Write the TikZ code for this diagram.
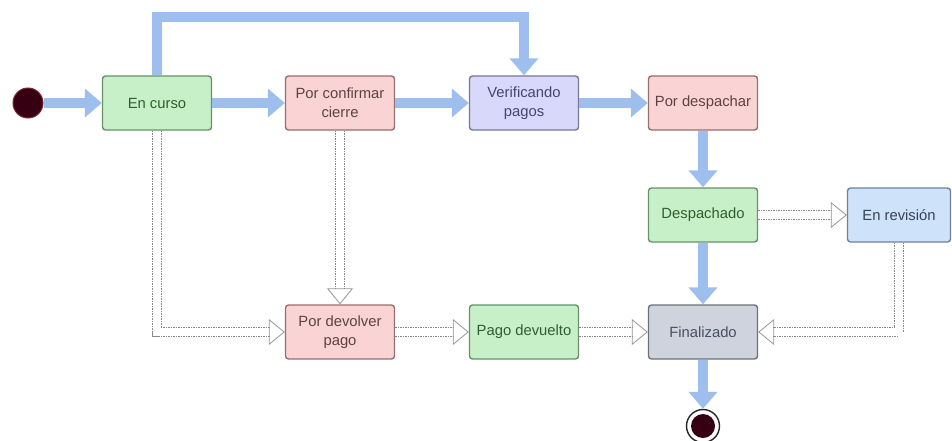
\documentclass[tikz,border=0pt]{standalone}
\usepackage{fontspec}
\setmainfont{Liberation Sans}
\usetikzlibrary{arrows.meta,calc}

% state colours: fill, border, text
\definecolor{grfill}{RGB}{200,240,200}\definecolor{grline}{RGB}{105,145,105}\definecolor{grtext}{RGB}{45,95,45}
\definecolor{pkfill}{RGB}{250,212,212}\definecolor{pkline}{RGB}{150,110,110}\definecolor{pktext}{RGB}{95,65,65}
\definecolor{lvfill}{RGB}{216,216,250}\definecolor{lvline}{RGB}{120,120,150}\definecolor{lvtext}{RGB}{70,70,110}
\definecolor{blfill}{RGB}{206,226,250}\definecolor{blline}{RGB}{110,130,160}\definecolor{bltext}{RGB}{55,65,85}
\definecolor{gyfill}{RGB}{206,211,222}\definecolor{gyline}{RGB}{110,112,122}\definecolor{gytext}{RGB}{70,80,100}
\definecolor{flowblue}{RGB}{158,190,237}
\definecolor{retgray}{RGB}{135,135,135}
\definecolor{tipgray}{RGB}{150,150,150}
\definecolor{dotdark}{RGB}{55,0,18}
\definecolor{dotrim}{RGB}{120,40,50}

\tikzset{
  state/.style={draw, line width=1.4pt, rounded corners=3pt, minimum width=109pt,
    minimum height=54pt, align=center, inner sep=2pt,
    font=\fontsize{14.8}{19}\selectfont},
  green/.style={state, fill=grfill, draw=grline, text=grtext},
  pink/.style={state, fill=pkfill, draw=pkline, text=pktext},
  lavender/.style={state, fill=lvfill, draw=lvline, text=lvtext},
  bluebox/.style={state, fill=blfill, draw=blline, text=bltext, minimum width=103pt},
  greybox/.style={state, fill=gyfill, draw=gyline, text=gytext},
  flow/.style={draw=flowblue, line width=10pt,
    -{Triangle[width=28pt,length=17pt,color=flowblue]}},
  % twin dotted rails ending in a hollow head
  ret/.style={draw=white, line width=8pt, shorten >=15pt,
    preaction={draw=retgray, line width=10pt, dash pattern=on 1.5pt off 1pt, shorten >=15pt},
    postaction={draw=tipgray, line width=0.8pt, shorten >=0pt, dash pattern=on 0pt off 4000pt,
      -{Triangle[open,width=26pt,length=16pt]}}},
}

\begin{document}
\begin{tikzpicture}[x=1pt,y=-1pt]
\useasboundingbox (0,0) rectangle (952,441);

% initial and final pseudo-states
\node[circle, fill=dotdark, draw=dotrim, line width=1pt,
  minimum size=30pt, inner sep=0pt] (start) at (28,103) {};
\node[circle, draw=black!85, line width=1.4pt, fill=white, minimum size=33pt, inner sep=0pt] (end) at (703,426) {};
\node[circle, fill=dotdark, minimum size=24pt, inner sep=0pt] (endcore) at (703,426) {};

% states
\node[green]    (curso)     at (157,103) {En curso};
\node[pink]     (confirmar) at (340,103) {Por confirmar\\cierre};
\node[lavender] (verif)     at (524,103) {Verificando\\pagos};
\node[pink]     (pdesp)     at (703,103) {Por despachar};
\node[green]    (desp)      at (703,215) {Despachado};
\node[bluebox]  (rev)       at (899,215) {En revisión};
\node[pink]     (pdev)      at (340,332) {Por devolver\\pago};
\node[green]    (pagodev)   at (524,332) {Pago devuelto};
\node[greybox]  (fin)       at (703,332) {Finalizado};

% main flow
\draw[flow] (start) -- (curso);
\draw[flow] (curso) -- (confirmar);
\draw[flow] (confirmar) -- (verif);
\draw[flow] (verif) -- (pdesp);
\draw[flow] (pdesp) -- (desp);
\draw[flow] (desp) -- (fin);
\draw[flow] (fin) -- (end);
\draw[flow] (curso.north) -- ++(0,-58) -| (verif.north);

% return / exception flows
\draw[ret] (curso.south) |- (pdev.west);
\draw[ret] (confirmar) -- (pdev);
\draw[ret] (pdev) -- (pagodev);
\draw[ret] (pagodev) -- (fin);
\draw[ret] (desp) -- (rev);
\draw[ret] (rev.south) |- (fin.east);
\end{tikzpicture}
\end{document}
